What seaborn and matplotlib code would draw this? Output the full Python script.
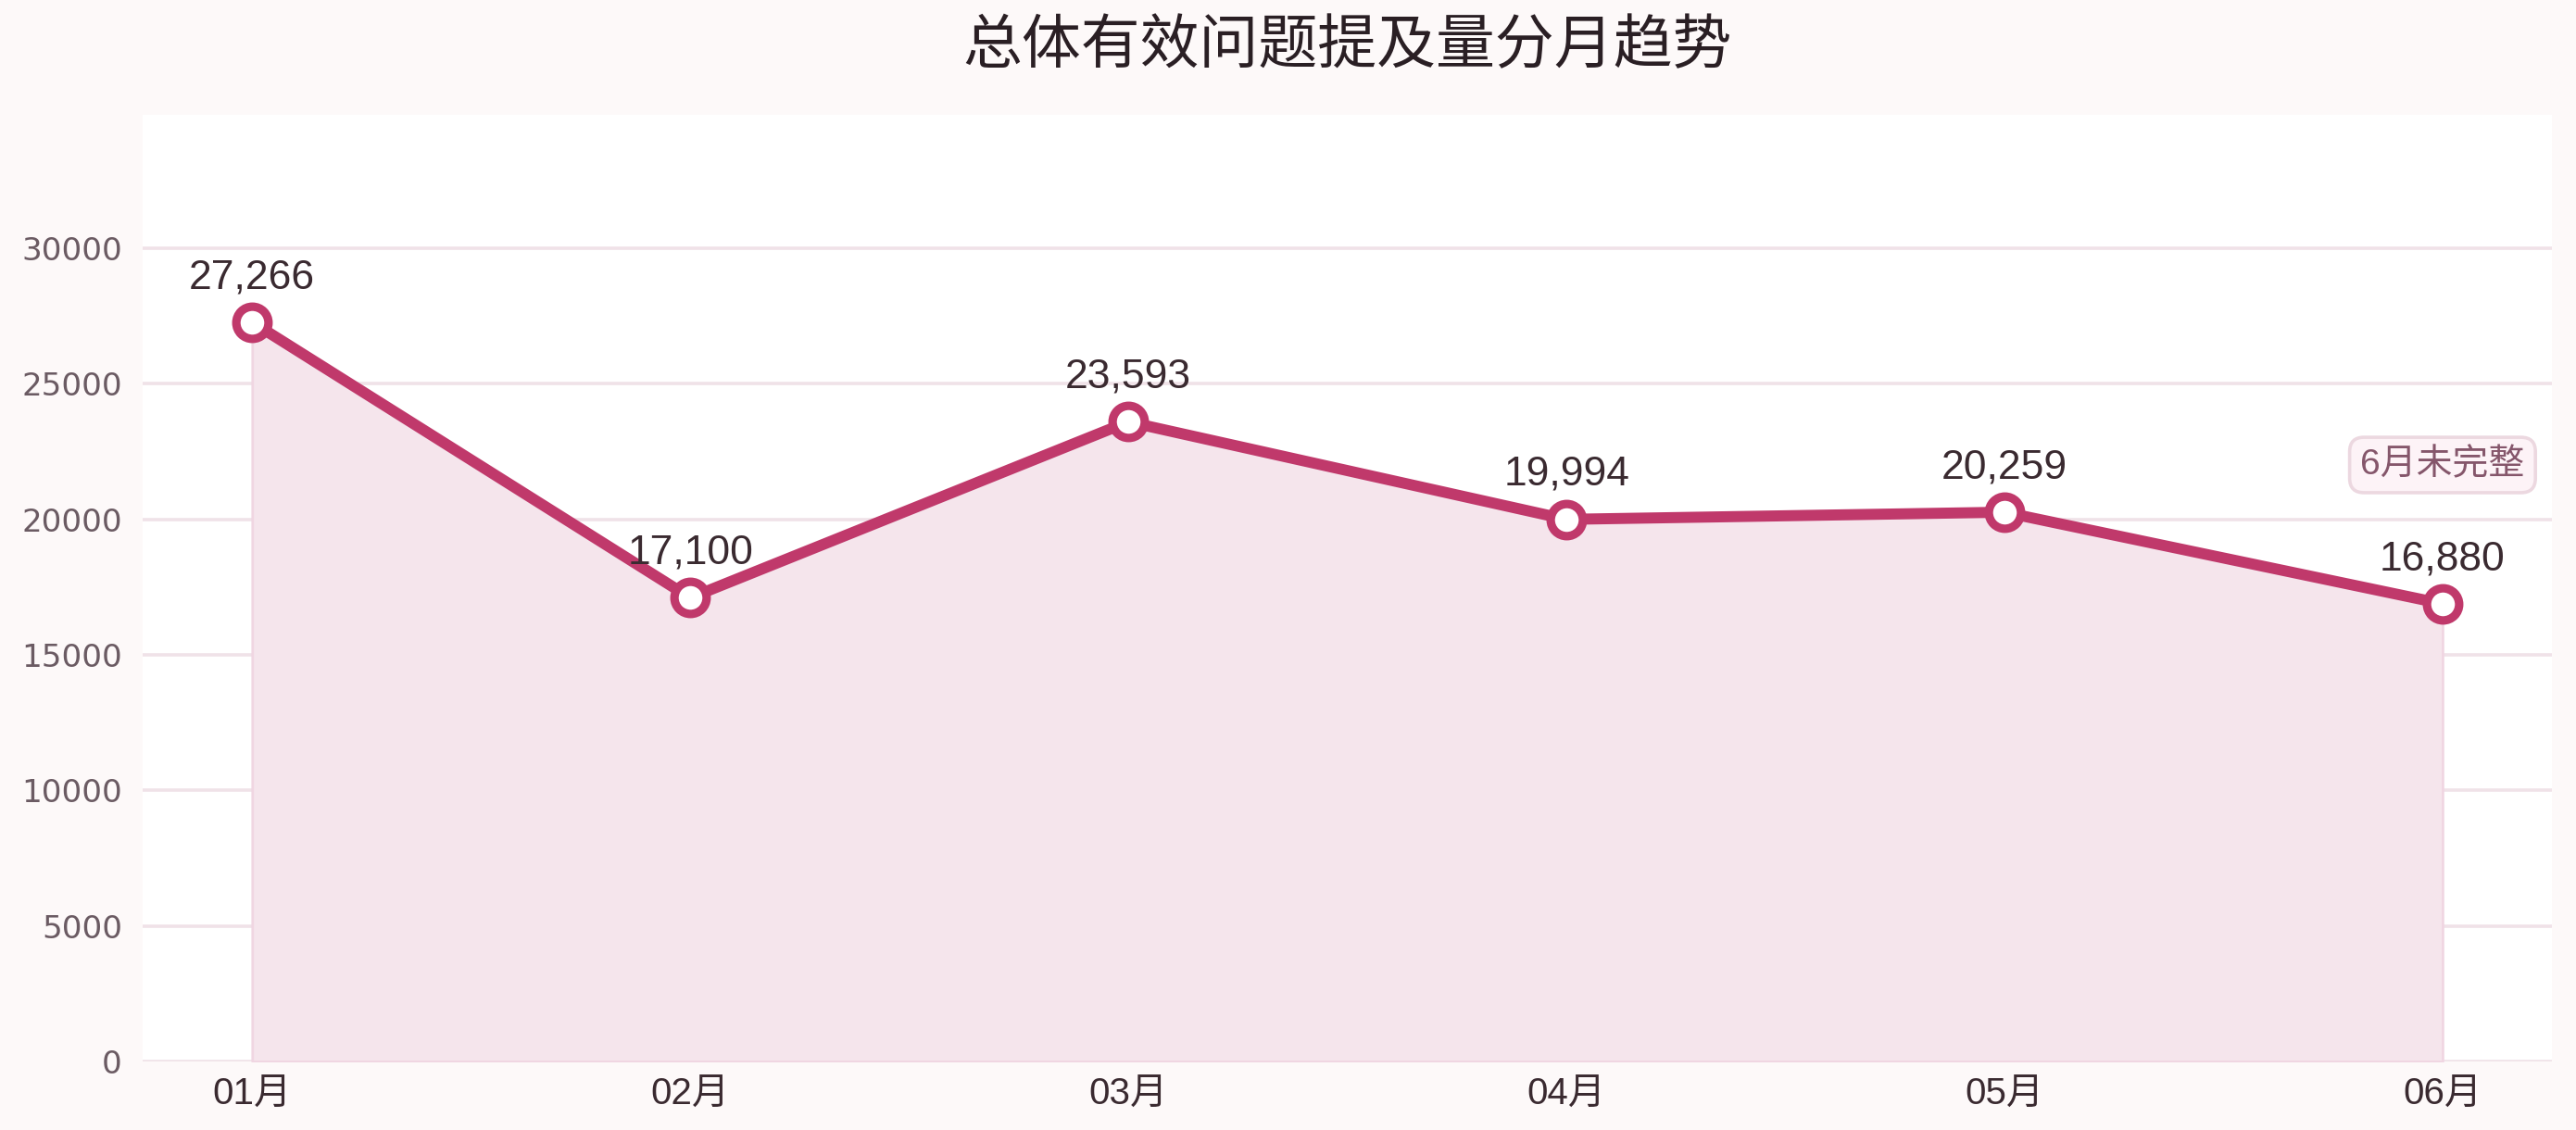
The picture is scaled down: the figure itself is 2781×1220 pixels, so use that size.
import matplotlib
matplotlib.use("Agg")
import matplotlib.pyplot as plt
import seaborn as sns
import pandas as pd
import numpy as np

months = ["01月", "02月", "03月", "04月", "05月", "06月"]
values = [27266, 17100, 23593, 19994, 20259, 16880]
yticks = [0, 5000, 10000, 15000, 20000, 25000, 30000]
title = "总体有效问题提及量分月趋势"
note = "6月未完整"
note_y = 22000

sns.set_theme(style="white")
plt.rcParams['font.family'] = ['Liberation Sans', 'Noto Sans CJK SC', 'DejaVu Sans']

line_c = "#c0396b"
fill_c = "#f5e5ec"
grid_c = "#f0e2e8"
bg_c = "#fdf9f9"

df = pd.DataFrame({"month": months, "x": np.arange(len(months)), "value": values})

fig = plt.figure(figsize=(13.905, 6.1), dpi=200, facecolor=bg_c)
ax = fig.add_axes([0.0554, 0.0607, 0.9353, 0.8373])
ax.set_facecolor("white")

ax.fill_between(df["x"], df["value"], 0, color=fill_c, edgecolor="#f0d6e2", linewidth=1.0, zorder=1)
sns.lineplot(data=df, x="x", y="value", ax=ax, color=line_c, linewidth=4.3,
             marker="o", markersize=12.5, markerfacecolor="white",
             markeredgecolor=line_c, markeredgewidth=3.3, zorder=4)

for xi, v in zip(df["x"], df["value"]):
    ax.annotate(f"{v:,}", (xi, v), xytext=(0, 10), textcoords="offset points",
                ha="center", va="bottom", fontsize=16, color="#3a2a30", zorder=5)

ax.text(5, note_y, note, ha="center", va="center", fontsize=14, color="#85566b",
        bbox=dict(boxstyle="round,pad=0.3,rounding_size=0.4", facecolor="#fdf3f7",
                  edgecolor="#ecd8e0", linewidth=1.3), zorder=6)

ax.set_xlim(-0.25, 5.25)
ax.set_ylim(0, 34900)
ax.set_xticks(df["x"])
ax.set_xticklabels(months, fontsize=14.5, color="#3a2a30")
ax.set_yticks(yticks)
ax.set_yticklabels([str(t) for t in yticks], fontsize=12.3, color="#6b5b63",
                   family=['DejaVu Sans'])
ax.tick_params(axis="x", length=0, pad=6)
ax.tick_params(axis="y", length=0, pad=8)
ax.grid(axis="y", color=grid_c, linewidth=1.3)
ax.set_axisbelow(True)
for s in ax.spines.values():
    s.set_visible(False)
ax.set_xlabel("")
ax.set_ylabel("")

fig.text(0.0554 + 0.9353 / 2, 0.959, title, ha="center", va="center", fontsize=23,
         fontweight="medium", color="#2a1f24",
         family=['Noto Sans CJK SC', 'DejaVu Sans'])

fig.savefig("out.png", dpi=200, facecolor=bg_c)
